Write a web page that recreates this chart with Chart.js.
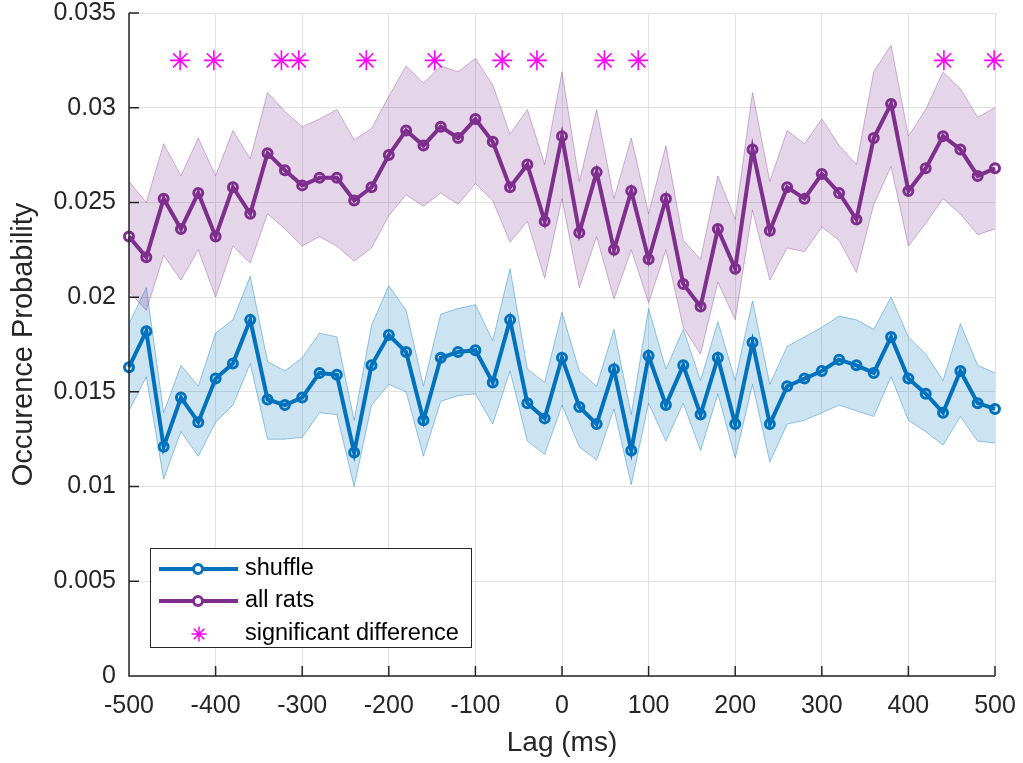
<!DOCTYPE html>
<html>
<head>
<meta charset="utf-8">
<title>Occurence probability vs lag</title>
<script src="https://cdn.jsdelivr.net/npm/chart.js@4/dist/chart.umd.min.js"></script>
<style>
  html, body { margin: 0; padding: 0; background: #fff; }
  #wrap { position: relative; width: 1023px; height: 763px; }
</style>
</head>
<body>
<div id="wrap"><canvas id="lagChart"></canvas></div>
<script>
// lag bins (ms)
const lags = [-500, -480, -460, -440, -420, -400, -380, -360, -340, -320, -300, -280, -260, -240, -220, -200, -180, -160, -140, -120, -100,
  -80, -60, -40, -20, 0, 20, 40, 60, 80, 100, 120, 140, 160, 180, 200, 220, 240, 260, 280, 300,
  320, 340, 360, 380, 400, 420, 440, 460, 480, 500];

// all rats: mean and shaded band
const ratsMean = [0.0232, 0.0221, 0.0252, 0.0236, 0.0255, 0.0232, 0.0258, 0.0244, 0.0276, 0.0267, 0.0259, 0.0263, 0.0263, 0.0251, 0.0258, 0.0275, 0.0288, 0.0280, 0.0290, 0.0284, 0.0294,
  0.0282, 0.0258, 0.0270, 0.0240, 0.0285, 0.0234, 0.0266, 0.0225, 0.0256, 0.0220, 0.0252, 0.0207, 0.0195, 0.0236, 0.0215, 0.0278, 0.0235, 0.0258, 0.0252, 0.0265,
  0.0255, 0.0241, 0.0284, 0.0302, 0.0256, 0.0268, 0.0285, 0.0278, 0.0264, 0.0268];
const ratsUpper = [0.0261, 0.0250, 0.0281, 0.0264, 0.0284, 0.0264, 0.0288, 0.0273, 0.0308, 0.0298, 0.0290, 0.0294, 0.0299, 0.0283, 0.0289, 0.0306, 0.0322, 0.0313, 0.0322, 0.0319, 0.0326,
  0.0312, 0.0286, 0.0299, 0.0270, 0.0319, 0.0261, 0.0299, 0.0252, 0.0284, 0.0244, 0.0280, 0.0230, 0.0220, 0.0264, 0.0241, 0.0308, 0.0261, 0.0288, 0.0281, 0.0294,
  0.0280, 0.0270, 0.0319, 0.0333, 0.0285, 0.0299, 0.0319, 0.0310, 0.0295, 0.0300];
const ratsLower = [0.0203, 0.0193, 0.0222, 0.0209, 0.0225, 0.0200, 0.0227, 0.0218, 0.0244, 0.0236, 0.0227, 0.0232, 0.0227, 0.0219, 0.0226, 0.0243, 0.0254, 0.0248, 0.0255, 0.0249, 0.0260,
  0.0251, 0.0229, 0.0240, 0.0210, 0.0252, 0.0205, 0.0232, 0.0199, 0.0225, 0.0197, 0.0225, 0.0184, 0.0170, 0.0208, 0.0188, 0.0246, 0.0209, 0.0226, 0.0224, 0.0237,
  0.0230, 0.0213, 0.0249, 0.0269, 0.0227, 0.0239, 0.0252, 0.0244, 0.0233, 0.0236];

// shuffle: mean and shaded band
const shuffleMean = [0.0163, 0.0182, 0.0121, 0.0147, 0.0134, 0.0157, 0.0165, 0.0188, 0.0146, 0.0143, 0.0147, 0.0160, 0.0159, 0.0118, 0.0164, 0.0180, 0.0171, 0.0135, 0.0168, 0.0171, 0.0172,
  0.0155, 0.0188, 0.0144, 0.0136, 0.0168, 0.0142, 0.0133, 0.0162, 0.0119, 0.0169, 0.0143, 0.0164, 0.0138, 0.0168, 0.0133, 0.0176, 0.0133, 0.0153, 0.0157, 0.0161,
  0.0167, 0.0164, 0.0160, 0.0179, 0.0157, 0.0149, 0.0139, 0.0161, 0.0144, 0.0141];
const shuffleUpper = [0.0186, 0.0205, 0.0139, 0.0164, 0.0153, 0.0181, 0.0188, 0.0211, 0.0166, 0.0161, 0.0168, 0.0181, 0.0179, 0.0135, 0.0185, 0.0206, 0.0193, 0.0153, 0.0191, 0.0194, 0.0196,
  0.0177, 0.0215, 0.0162, 0.0155, 0.0192, 0.0161, 0.0153, 0.0183, 0.0138, 0.0194, 0.0162, 0.0183, 0.0156, 0.0187, 0.0156, 0.0198, 0.0154, 0.0174, 0.0179, 0.0184,
  0.0190, 0.0188, 0.0183, 0.0200, 0.0179, 0.0170, 0.0156, 0.0186, 0.0164, 0.0160];
const shuffleLower = [0.0140, 0.0158, 0.0104, 0.0129, 0.0116, 0.0134, 0.0143, 0.0165, 0.0125, 0.0125, 0.0126, 0.0139, 0.0138, 0.0100, 0.0143, 0.0154, 0.0150, 0.0116, 0.0145, 0.0148, 0.0149,
  0.0133, 0.0161, 0.0124, 0.0117, 0.0143, 0.0121, 0.0114, 0.0141, 0.0101, 0.0144, 0.0124, 0.0144, 0.0119, 0.0149, 0.0115, 0.0154, 0.0113, 0.0133, 0.0135, 0.0139,
  0.0143, 0.0140, 0.0137, 0.0158, 0.0135, 0.0129, 0.0122, 0.0137, 0.0124, 0.0123];

// lags where the two curves differ significantly
const sigLags = [-441, -402, -324, -304, -226, -147, -69, -29, 49, 88, 441, 499];
const sigLevel = [0.0325, 0.0325, 0.0325, 0.0325, 0.0325, 0.0325, 0.0325, 0.0325, 0.0325, 0.0325, 0.0325, 0.0325];

const seriesNames = ['shuffle', 'all rats', 'significant difference'];
const xTitle = 'Lag (ms)';
const yTitle = 'Occurence Probability';

const BLUE = '#0072BD';
const PURPLE = '#7E2F8E';
const MAGENTA = '#FF00FF';
const INK = '#262626';
const FONT = "'Liberation Sans', Arial, Helvetica, sans-serif";
const TICK_LEN = 10;

const pts = (xs, ys) => xs.map((x, i) => ({ x: x, y: ys[i] }));

const lineStyle = (color) => ({
  borderColor: color,
  borderWidth: 4,
  pointRadius: 4.5,
  pointBorderWidth: 3,
  pointBorderColor: color,
  pointBackgroundColor: 'rgba(0,0,0,0)',
  pointStyle: 'circle',
  fill: false,
  tension: 0,
  clip: false
});

const bandEdge = (color) => ({
  borderColor: color,
  borderWidth: 1,
  pointRadius: 0,
  tension: 0
});

const datasets = [
  {
    label: seriesNames[2],
    data: pts(sigLags, sigLevel),
    showLine: false,
    pointStyle: 'star',
    pointRadius: 10,
    pointBorderWidth: 1.6,
    pointBorderColor: MAGENTA,
    pointBackgroundColor: MAGENTA,
    clip: false,
    order: 0
  },
  Object.assign({ label: seriesNames[1], data: pts(lags, ratsMean), order: 1 }, lineStyle(PURPLE)),
  Object.assign({ label: seriesNames[0], data: pts(lags, shuffleMean), order: 2 }, lineStyle(BLUE)),
  // all rats band: upper edge fills down to the lower edge
  Object.assign({ label: 'rats upper', data: pts(lags, ratsUpper), fill: '+1', backgroundColor: 'rgba(126,47,142,0.2)', order: 3 },
    bandEdge('rgba(126,47,142,0.35)')),
  Object.assign({ label: 'rats lower', data: pts(lags, ratsLower), fill: false, order: 3 },
    bandEdge('rgba(126,47,142,0.35)')),
  // shuffle band
  Object.assign({ label: 'shuffle upper', data: pts(lags, shuffleUpper), fill: '+1', backgroundColor: 'rgba(0,114,189,0.2)', order: 4 },
    bandEdge('rgba(0,114,189,0.4)')),
  Object.assign({ label: 'shuffle lower', data: pts(lags, shuffleLower), fill: false, order: 4 },
    bandEdge('rgba(0,114,189,0.4)'))
];

// axis lines and inward tick marks, drawn over the shaded bands
const axesOnTop = {
  id: 'axesOnTop',
  afterDatasetsDraw(chart) {
    const { ctx, chartArea: a, scales: { x, y } } = chart;
    ctx.save();
    ctx.strokeStyle = INK;
    ctx.lineWidth = 1.5;
    ctx.beginPath();
    ctx.moveTo(a.left, a.top);
    ctx.lineTo(a.left, a.bottom);
    ctx.lineTo(a.right, a.bottom);
    x.ticks.forEach(t => {
      const px = x.getPixelForValue(t.value);
      ctx.moveTo(px, a.bottom);
      ctx.lineTo(px, a.bottom - TICK_LEN);
    });
    y.ticks.forEach(t => {
      const py = y.getPixelForValue(t.value);
      ctx.moveTo(a.left, py);
      ctx.lineTo(a.left + TICK_LEN, py);
    });
    ctx.stroke();
    ctx.restore();
  }
};

// boxed legend in the lower left corner
const boxLegend = {
  id: 'boxLegend',
  afterDraw(chart) {
    const { ctx } = chart;
    const box = { x: 150.5, y: 548.5, w: 321, h: 99 };
    const rows = [569, 601, 634];
    ctx.save();
    ctx.fillStyle = '#fff';
    ctx.fillRect(box.x, box.y, box.w, box.h);
    ctx.strokeStyle = INK;
    ctx.lineWidth = 1;
    ctx.strokeRect(box.x, box.y, box.w, box.h);

    [BLUE, PURPLE].forEach((c, i) => {
      ctx.strokeStyle = c;
      ctx.lineWidth = 4;
      ctx.beginPath();
      ctx.moveTo(159, rows[i]);
      ctx.lineTo(238, rows[i]);
      ctx.stroke();
      ctx.lineWidth = 3;
      ctx.beginPath();
      ctx.arc(198, rows[i], 4.5, 0, Math.PI * 2);
      ctx.fillStyle = '#fff';
      ctx.fill();
      ctx.stroke();
    });

    ctx.strokeStyle = MAGENTA;
    ctx.fillStyle = MAGENTA;
    ctx.lineWidth = 1.5;
    Chart.helpers.drawPoint(ctx, { pointStyle: 'star', radius: 7.5, rotation: 0, borderWidth: 1.5 }, 199, rows[2]);

    ctx.fillStyle = '#000';
    ctx.font = '23.5px ' + FONT;
    ctx.textBaseline = 'middle';
    ctx.textAlign = 'left';
    seriesNames.forEach((name, i) => ctx.fillText(name, 245, rows[i]));
    ctx.restore();
  }
};

// invisible outer tick marks give the label gap without widening the layout padding
const gridOpts = (gap) => ({
  color: '#e2e2e2',
  lineWidth: 1,
  drawTicks: true,
  tickLength: gap,
  tickColor: 'rgba(0,0,0,0)'
});

new Chart(document.getElementById('lagChart'), {
  type: 'line',
  data: { datasets },
  options: {
    responsive: true,
    maintainAspectRatio: false,
    animation: false,
    layout: { padding: { top: 13, right: 28, bottom: 0, left: 0 } },
    plugins: {
      legend: { display: false },
      tooltip: { enabled: false }
    },
    scales: {
      x: {
        type: 'linear',
        min: -500,
        max: 500,
        grid: gridOpts(18),
        border: { display: false },
        ticks: {
          stepSize: 100,
          padding: 0,
          color: INK,
          maxRotation: 0,
          font: { family: FONT, size: 25, lineHeight: 1 },
          callback: v => String(v)
        },
        title: {
          display: true,
          text: xTitle,
          color: INK,
          padding: { top: 0, bottom: 3 },
          font: { family: FONT, size: 28, lineHeight: 1.2 }
        },
        afterFit: s => { s.height = 87; }
      },
      y: {
        type: 'linear',
        min: 0,
        max: 0.035,
        grid: gridOpts(13),
        border: { display: false },
        ticks: {
          stepSize: 0.005,
          padding: 0,
          color: INK,
          font: { family: FONT, size: 25, lineHeight: 1 },
          callback: v => String(+v.toFixed(3))
        },
        title: {
          display: true,
          text: yTitle,
          color: INK,
          padding: { top: 7, bottom: 0 },
          font: { family: FONT, size: 29, lineHeight: 1.2 }
        },
        afterFit: s => { s.width = 129; }
      }
    }
  },
  plugins: [axesOnTop, boxLegend]
});
</script>
</body>
</html>
